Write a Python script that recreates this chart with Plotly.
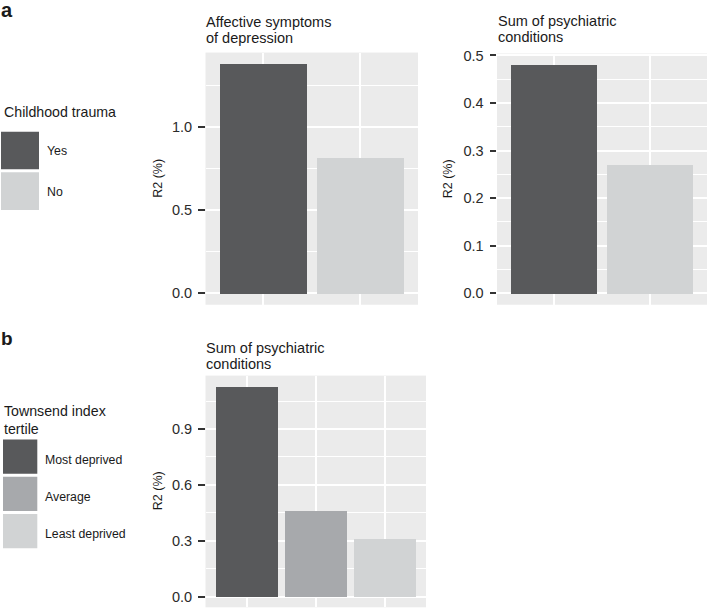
import plotly.graph_objects as go

W, H = 710, 609

# ---------------- data ----------------
trauma_groups = ["Yes", "No"]
trauma_colors = ["#58595b", "#d1d3d4"]
affective_r2 = [1.38, 0.82]
sum_psych_trauma_r2 = [0.48, 0.27]

townsend_groups = ["Most deprived", "Average", "Least deprived"]
townsend_colors = ["#58595b", "#a7a9ac", "#d1d3d4"]
sum_psych_townsend_r2 = [1.13, 0.46, 0.31]

a1_ticks = [0.0, 0.5, 1.0]
a2_ticks = [0.0, 0.1, 0.2, 0.3, 0.4, 0.5]
b_ticks = [0.0, 0.3, 0.6, 0.9]

title_a1 = ["Affective symptoms", "of depression"]
title_a2 = ["Sum of psychiatric", "conditions"]
title_b = ["Sum of psychiatric", "conditions"]
legend_title_a = ["Childhood trauma"]
legend_title_b = ["Townsend index", "tertile"]
y_title = "R2 (%)"

FONT = "Liberation Sans, Arial, sans-serif"
PANEL_BG = "#ebebeb"


def fx(px):
    return px / W


def fy(py):
    return 1 - py / H


fig = go.Figure()

panels = [
    # (axis suffix, groups, values, colors, ticks, minor dtick, xdom px, ydom px)
    ("", trauma_groups, affective_r2, trauma_colors, a1_ticks, 0.25, (205.5, 418), (47, 301.7)),
    ("2", trauma_groups, sum_psych_trauma_r2, trauma_colors, a2_ticks, 0.05, (497, 707), (48, 301.7)),
    ("3", townsend_groups, sum_psych_townsend_r2, townsend_colors, b_ticks, 0.15, (205.5, 426), (373.3, 607.3)),
]

for suf, groups, vals, cols, ticks, minor_dt, (x0, x1), (y0, y1) in panels:
    fig.add_trace(go.Bar(
        x=groups, y=vals, width=0.9,
        marker=dict(color=cols, line=dict(width=0)),
        xaxis="x" + suf, yaxis="y" + suf, showlegend=False,
        hoverinfo="skip",
    ))
    vmax = max(vals)
    n = len(groups)
    fig.layout["xaxis" + suf] = dict(
        domain=[fx(x0), fx(x1)], anchor="y" + suf,
        type="category", categoryorder="array", categoryarray=groups,
        range=[-0.6, n - 1 + 0.6],
        showticklabels=False, ticks="",
        showgrid=True, gridcolor="white", gridwidth=1.8,
        zeroline=False, showline=False, fixedrange=True,
    )
    fig.layout["yaxis" + suf] = dict(
        domain=[fy(y1), fy(y0)], anchor="x" + suf,
        range=[-0.05 * vmax, 1.05 * vmax],
        tickmode="array", tickvals=ticks, ticktext=["%.1f" % t for t in ticks],
        ticks="outside", ticklen=6.5, tickwidth=2, tickcolor="#333333",
        ticklabelstandoff=3,
        tickfont=dict(family=FONT, size=14.5, color="#2b2b2b"),
        showgrid=True, gridcolor="white", gridwidth=1.8,
        minor=dict(dtick=minor_dt, tick0=0, showgrid=True, gridcolor="white", gridwidth=0.9),
        zeroline=False, showline=False, fixedrange=True,
    )

fig.update_layout(
    width=W, height=H,
    margin=dict(l=0, r=0, t=0, b=0),
    paper_bgcolor="white", plot_bgcolor=PANEL_BG,
    bargap=0, showlegend=False,
    font=dict(family=FONT, color="#1a1a1a"),
)

annotations = []


def text(x, y, s, size, anchor="left", yanchor="middle", angle=0, bold=False, color="#1a1a1a"):
    annotations.append(dict(
        x=fx(x), y=fy(y), xref="paper", yref="paper",
        text=("<b>%s</b>" % s) if bold else s,
        showarrow=False, xanchor=anchor, yanchor=yanchor, textangle=angle,
        font=dict(family=FONT, size=size, color=color),
    ))


# panel letters
text(-1, 4.5, "a", 20, bold=True)
text(-1, 336, "b", 19, bold=True)

# panel titles (line-by-line)
for i, line in enumerate(title_a1):
    text(204, 16 + 16 * i, line, 14.5)
for i, line in enumerate(title_a2):
    text(496, 15.5 + 16 * i, line, 14.5)
for i, line in enumerate(title_b):
    text(204, 345.5 + 16.5 * i, line, 14.5)

# y-axis titles
text(158, 174.5, y_title, 12.5, anchor="center", angle=-90)
text(448, 175, y_title, 12.5, anchor="center", angle=-90)
text(158, 490, y_title, 12.5, anchor="center", angle=-90)

# legend a
text(2, 107, legend_title_a[0], 14.2)
key_a_top = 127
for i, (g, c) in enumerate(zip(trauma_groups, trauma_colors)):
    top = key_a_top + 41 * i
    fig.add_shape(type="rect", xref="paper", yref="paper",
                  x0=fx(1), x1=fx(39), y0=fy(top + 38), y1=fy(top),
                  fillcolor=c, line=dict(width=0))
    text(45, top + 19.5, g, 12.3)

# legend b
for i, line in enumerate(legend_title_b):
    text(2, 409 + 18 * i, line, 14.2)
key_b_top = 437.7
for i, (g, c) in enumerate(zip(townsend_groups, townsend_colors)):
    top = key_b_top + 37.7 * i
    fig.add_shape(type="rect", xref="paper", yref="paper",
                  x0=fx(3), x1=fx(37.3), y0=fy(top + 34.6), y1=fy(top),
                  fillcolor=c, line=dict(width=0))
    text(43, top + 20.5, g, 12.3)

fig.update_layout(annotations=annotations)

fig.write_html(
    "out.html",
    config={"displayModeBar": False},
    post_script="document.body.style.margin='0px';document.body.style.overflow='hidden';",
)
